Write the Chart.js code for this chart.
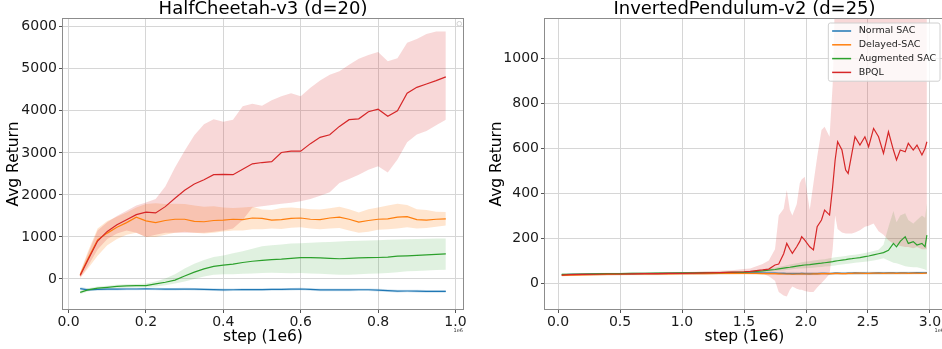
<!DOCTYPE html>
<html>
<head>
<meta charset="utf-8">
<script src="https://cdn.jsdelivr.net/npm/chart.js@4.4.1/dist/chart.umd.min.js"></script>
<style>
html,body{margin:0;padding:0;background:#fff;overflow:hidden;width:942px;height:349px;}
.panel{position:absolute;top:0;}
</style>
</head>
<body>
<div class="panel" style="left:0"><canvas id="cheetah" width="471" height="349"></canvas></div>
<div class="panel" style="left:471px"><canvas id="pendulum" width="475" height="349"></canvas></div>
<script>
const NAMES = ['Normal SAC','Delayed-SAC','Augmented SAC','BPQL'];
const COLORS = ['#1f77b4','#ff7f0e','#2ca02c','#d62728'];
const BANDS = ['rgba(31,119,180,0.2)','rgba(255,127,14,0.2)','rgba(44,160,44,0.15)','rgba(214,39,40,0.18)'];

// HalfCheetah-v3 (steps in 1e6)
const cheetahSteps = [0.03,0.05,0.075,0.1,0.125,0.15,0.175,0.2,0.225,0.25,
  0.275,0.3,0.325,0.35,0.375,0.4,0.425,0.45,0.475,0.5,
  0.525,0.55,0.575,0.6,0.625,0.65,0.675,0.7,0.725,0.75,
  0.775,0.8,0.825,0.85,0.875,0.9,0.925,0.95,0.975];
const cheetahNormal = [-230,-260,-250,-245,-245,-240,-240,-235,-240,-245,
  -245,-240,-245,-250,-255,-260,-258,-255,-255,-255,
  -250,-250,-245,-240,-250,-260,-262,-260,-262,-258,
  -258,-265,-280,-290,-288,-290,-295,-295,-295];
const cheetahNormalHi = [-195,-225,-220,-215,-215,-212,-212,-208,-212,-215,
  -215,-212,-215,-220,-225,-228,-226,-224,-224,-224,
  -220,-220,-215,-212,-220,-228,-230,-228,-230,-226,
  -226,-232,-248,-258,-256,-258,-262,-262,-262];
const cheetahNormalLo = [-265,-290,-280,-275,-275,-270,-270,-265,-270,-275,
  -275,-270,-275,-280,-285,-292,-290,-286,-286,-286,
  -280,-280,-275,-270,-280,-292,-294,-292,-294,-290,
  -290,-298,-312,-322,-320,-322,-328,-328,-328];
const cheetahDelayed = [100,480,930,1090,1230,1340,1470,1380,1340,1390,
  1420,1420,1370,1360,1390,1400,1420,1410,1450,1440,
  1400,1410,1440,1450,1420,1410,1450,1470,1420,1350,
  1390,1420,1430,1470,1480,1410,1400,1420,1430];
const cheetahDelayedHi = [150,650,1200,1380,1480,1580,1700,1780,1800,1780,
  1790,1780,1750,1720,1730,1700,1690,1700,1720,1650,
  1640,1690,1700,1680,1660,1650,1680,1720,1660,1580,
  1660,1700,1750,1790,1760,1660,1640,1600,1590];
const cheetahDelayedLo = [20,250,550,800,950,1050,1100,1000,1000,1050,
  1100,1120,1100,1080,1100,1130,1150,1150,1180,1180,
  1200,1190,1220,1230,1200,1180,1200,1210,1150,1100,
  1120,1170,1180,1200,1230,1200,1210,1240,1270];
const cheetahAugmented = [-320,-260,-220,-200,-180,-165,-160,-160,-120,-80,
  -30,70,160,240,300,330,350,390,420,440,
  460,470,490,505,505,500,490,480,490,500,
  505,510,520,540,550,560,570,585,595];
const cheetahAugmentedHi = [-280,-220,-180,-160,-140,-125,-120,-110,-60,10,
  110,250,360,450,520,560,610,660,720,780,
  800,820,840,850,860,870,880,890,900,910,
  915,920,930,940,945,950,955,960,960];
const cheetahAugmentedLo = [-360,-300,-260,-240,-220,-205,-200,-200,-180,-150,
  -110,-60,0,60,100,110,110,120,130,140,
  145,140,135,140,130,120,110,100,100,110,
  120,130,140,160,180,190,200,210,220];
const cheetahBPQL = [80,450,900,1130,1290,1410,1530,1590,1570,1720,
  1920,2110,2260,2360,2480,2490,2480,2610,2740,2770,
  2790,3010,3040,3040,3220,3370,3430,3630,3790,3810,
  3980,4040,3870,4000,4420,4560,4640,4720,4810];
const cheetahBPQLHi = [150,600,1150,1350,1500,1620,1750,1820,1900,2200,
  2650,3050,3420,3680,3800,3740,3790,4110,4170,4120,
  4250,4350,4420,4350,4550,4720,4860,4940,5100,5240,
  5330,5400,5180,5250,5620,5710,5830,5890,5890];
const cheetahBPQLLo = [30,300,700,950,1080,1150,1100,1000,1050,1100,
  1100,1100,1100,1100,1120,1150,1200,1400,1700,1730,
  1760,1790,1810,1850,1900,1980,2060,2280,2380,2480,
  2600,2680,2530,2840,3250,3440,3520,3660,3790];
const cheetahXTicks = [0,0.2,0.4,0.6,0.8,1.0];
const cheetahYTicks = [0,1000,2000,3000,4000,5000,6000];

// InvertedPendulum-v2 (steps in 1e6)
const pendSteps = [0.03,0.1,0.2,0.3,0.4,0.5,0.6,0.7,0.8,0.9,1.0,1.1,1.2,1.3,1.4,1.5,
  1.55,1.6,1.65,1.7,1.75,1.78,1.82,1.845,1.87,1.89,
  1.925,1.95,1.965,1.99,2.03,2.06,2.09,2.125,2.15,2.19,
  2.215,2.235,2.255,2.29,2.32,2.34,2.37,2.395,2.435,2.475,
  2.505,2.545,2.585,2.625,2.665,2.705,2.73,2.76,2.8,2.825,
  2.865,2.895,2.935,2.96,2.975];
const pendStepsCoarse = [0.03,0.25,0.5,0.75,1.0,1.25,1.5,1.75,2.0,2.25,2.5,2.75,2.975];
const pendNormal = [36,38,39,40,40,41,41,42,42,43,43,43,44,44,44,45,
  45,45,44,44,44,43,43,42,42,41,
  42,42,43,42,41,42,42,43,43,42,
  43,44,44,43,43,44,44,45,44,44,
  43,44,45,44,45,45,44,45,45,44,
  45,46,45,45,46];
const pendNormalHi = [40,43,45,47,48,49,50,50,49,49,50,50,51];
const pendNormalLo = [32,35,36,37,38,39,40,39,36,37,38,39,40];
const pendDelayed = [34,35,36,37,38,39,40,40,41,41,42,42,42,43,43,43,
  43,43,42,42,42,41,40,40,40,39,
  40,40,41,40,40,41,41,42,42,42,
  42,43,43,42,42,43,43,44,44,43,
  43,44,44,43,44,44,43,44,44,43,
  44,44,43,44,44];
const pendDelayedHi = [38,41,43,45,46,47,48,47,46,47,48,48,49];
const pendDelayedLo = [30,32,34,35,36,37,38,36,34,36,38,38,39];
const pendAugmented = [38,39,40,41,42,42,43,43,44,44,45,45,46,46,47,48,
  50,52,54,57,60,63,66,68,70,72,
  75,77,78,80,82,84,86,88,90,93,
  95,97,99,102,104,106,108,110,113,117,
  120,125,130,135,145,176,161,185,206,176,
  184,169,176,161,213];
const pendAugmentedHi = [42,43,44,45,46,46,47,47,48,48,49,49,50,50,51,53,
  55,58,61,65,69,72,76,79,82,84,
  88,90,92,95,97,100,102,104,106,110,
  112,114,116,118,120,122,124,126,129,133,
  137,142,148,170,250,320,270,300,310,280,
  265,280,300,290,354];
const pendAugmentedLo = [34,35,36,37,38,38,39,39,40,40,41,41,42,42,43,44,
  46,47,48,50,52,54,56,58,59,61,
  63,64,65,66,67,68,70,71,73,75,
  77,78,80,82,84,86,88,90,92,95,
  97,100,105,110,100,90,88,82,75,72,
  70,70,65,60,55];
const pendBPQL = [35,37,38,39,40,40,41,42,42,43,43,44,45,46,48,50,
  52,55,58,62,80,84,130,176,150,132,
  161,185,206,191,161,147,250,280,324,302,
  428,547,628,591,502,487,576,650,613,650,
  606,687,650,576,672,591,547,591,583,621,
  591,613,569,598,628];
const pendBPQLHi = [40,42,43,44,45,45,46,47,47,48,48,50,52,54,57,62,
  65,75,85,100,150,300,330,413,324,300,
  350,443,460,472,324,443,560,680,695,650,
  880,1300,1300,1300,1300,1300,1300,1300,1300,1300,
  1300,1300,1300,1300,1300,1300,1300,1300,1300,1300,
  1300,1300,1300,1300,1300];
const pendBPQLLo = [30,32,33,34,35,35,36,37,37,38,38,39,40,40,40,40,
  40,40,42,30,10,-40,-55,-60,-30,-15,
  -25,-30,-30,-35,-40,-40,-20,0,15,40,
  150,300,240,225,220,220,220,225,235,250,
  255,265,230,215,190,175,170,165,160,160,
  155,160,150,150,150];
const pendXTicks = [0,0.5,1.0,1.5,2.0,2.5,3.0];
const pendYTicks = [0,200,400,600,800,1000];

const pts = (xs, ys) => ys.map((y,i)=>({x:xs[i], y}));

function buildDatasets(runs){
  const ds = [];
  runs.forEach((r,k)=>{
    ds.push({data:pts(r.bandXs,r.hi), borderWidth:0, backgroundColor:BANDS[k], fill:'+1', order:10+(3-k)});
    ds.push({data:pts(r.bandXs,r.lo), borderWidth:0, fill:false, order:10+(3-k)});
  });
  runs.forEach((r,k)=>{
    ds.push({label:NAMES[k], data:pts(r.xs,r.mean), borderColor:COLORS[k], borderWidth:1.2, fill:false, order:3-k});
  });
  return ds;
}

// axes box + small offset text, drawn over the data like matplotlib spines
const framePlugin = {
  id:'frame',
  afterDraw(chart){
    const {ctx, chartArea:a} = chart;
    ctx.save();
    ctx.strokeStyle = '#8c8c8c'; ctx.lineWidth = 1;
    ctx.strokeRect(Math.round(a.left)+0.5, Math.round(a.top)+0.5, Math.round(a.right-a.left)-1, Math.round(a.bottom-a.top)-1);
    ctx.fillStyle = '#333'; ctx.font = '5px "DejaVu Sans"';
    ctx.textAlign = 'right'; ctx.textBaseline = 'middle';
    ctx.fillText('1e6', a.right-1, 330.5);
    ctx.restore();
  }
};

// matplotlib-like legend box in the upper right corner
const legendPlugin = {
  id:'mplLegend',
  afterDraw(chart, args, opts){
    const {ctx, chartArea:a} = chart;
    const fs = 9.5, pad = 3.8, hl = 19, gap = 7.6, row = 13.8;
    ctx.save();
    ctx.font = fs+'px "DejaVu Sans"';
    const labels = opts.show ? NAMES : [];
    let x0, y0, w, h;
    if(labels.length){
      const tw = Math.max(...labels.map(t=>ctx.measureText(t).width));
      w = pad*2+hl+gap+tw; h = labels.length*row+3;
      x0 = a.right-5-w; y0 = a.top+5;
    } else {
      w = 4.5; h = 4.5; x0 = a.right-7; y0 = a.top+3.5;
    }
    ctx.beginPath();
    ctx.roundRect(x0, y0, w, h, 2);
    ctx.fillStyle = 'rgba(255,255,255,0.8)'; ctx.fill();
    ctx.strokeStyle = '#d0d0d0'; ctx.lineWidth = 1; ctx.stroke();
    labels.forEach((t,i)=>{
      const cy = y0+8+i*row;
      ctx.beginPath(); ctx.moveTo(x0+pad, cy); ctx.lineTo(x0+pad+hl, cy);
      ctx.strokeStyle = COLORS[i]; ctx.lineWidth = 1.5; ctx.stroke();
      ctx.fillStyle = '#222'; ctx.textAlign = 'left'; ctx.textBaseline = 'middle';
      ctx.fillText(t, x0+pad+hl+gap, cy);
    });
    ctx.restore();
  }
};

Chart.defaults.font.family = '"DejaVu Sans", sans-serif';

function makeChart(id, o){
  return new Chart(document.getElementById(id), {
    type:'line',
    data:{datasets:buildDatasets(o.runs)},
    options:{
      responsive:false, animation:false,
      layout:{padding:{left:0,right:o.padRight,top:0,bottom:0}},
      elements:{point:{radius:0}, line:{tension:0}},
      plugins:{
        legend:{display:false}, tooltip:{enabled:false},
        filler:{drawTime:'beforeDatasetsDraw'},
        title:{display:true, text:o.title, fullSize:false, color:'#000',
          font:{size:18, lineHeight:1, weight:'normal'}, padding:0},
        mplLegend:{show:o.legend}
      },
      scales:{
        x:{type:'linear', min:o.xMin, max:o.xMax,
          afterBuildTicks:s=>{ s.ticks = o.xTicks.map(v=>({value:v})); },
          afterFit:s=>{ s.height = 39; },
          grid:{color:'#d6d6d6', tickColor:'#555', tickLength:3},
          border:{display:false},
          ticks:{color:'#1a1a1a', font:{size:14}, padding:1, maxRotation:0, autoSkip:false, callback:v=>Number(v).toFixed(1)},
          title:{display:true, text:'step (1e6)', color:'#000', font:{size:15.5, lineHeight:1}, padding:{top:0,bottom:4}}},
        y:{type:'linear', min:o.yMin, max:o.yMax,
          afterBuildTicks:s=>{ s.ticks = o.yTicks.map(v=>({value:v})); },
          afterFit:s=>{ s.width = o.yWidth; },
          grid:{color:'#d6d6d6', tickColor:'#555', tickLength:3},
          border:{display:false},
          ticks:{color:'#1a1a1a', font:{size:14}, padding:2, autoSkip:false, callback:v=>String(v)},
          title:{display:true, text:'Avg Return', color:'#000', font:{size:15.5, lineHeight:1}, padding:{top:o.yTitlePad,bottom:0}}}
      }
    },
    plugins:[framePlugin, legendPlugin]
  });
}

makeChart('cheetah', {
  title:'HalfCheetah-v3 (d=20)', legend:false, padRight:7, yWidth:62, yTitlePad:6,
  xMin:-0.017, xMax:1.022, yMin:-740, yMax:6210,
  xTicks:cheetahXTicks, yTicks:cheetahYTicks,
  runs:[
    {xs:cheetahSteps, mean:cheetahNormal, bandXs:cheetahSteps, lo:cheetahNormalLo, hi:cheetahNormalHi},
    {xs:cheetahSteps, mean:cheetahDelayed, bandXs:cheetahSteps, lo:cheetahDelayedLo, hi:cheetahDelayedHi},
    {xs:cheetahSteps, mean:cheetahAugmented, bandXs:cheetahSteps, lo:cheetahAugmentedLo, hi:cheetahAugmentedHi},
    {xs:cheetahSteps, mean:cheetahBPQL, bandXs:cheetahSteps, lo:cheetahBPQLLo, hi:cheetahBPQLHi}
  ]
});

makeChart('pendulum', {
  title:'InvertedPendulum-v2 (d=25)', legend:true, padRight:1, yWidth:73, yTitlePad:17.75,
  xMin:-0.113, xMax:3.121, yMin:-120, yMax:1178,
  xTicks:pendXTicks, yTicks:pendYTicks,
  runs:[
    {xs:pendSteps, mean:pendNormal, bandXs:pendStepsCoarse, lo:pendNormalLo, hi:pendNormalHi},
    {xs:pendSteps, mean:pendDelayed, bandXs:pendStepsCoarse, lo:pendDelayedLo, hi:pendDelayedHi},
    {xs:pendSteps, mean:pendAugmented, bandXs:pendSteps, lo:pendAugmentedLo, hi:pendAugmentedHi},
    {xs:pendSteps, mean:pendBPQL, bandXs:pendSteps, lo:pendBPQLLo, hi:pendBPQLHi}
  ]
});
</script>
</body>
</html>
